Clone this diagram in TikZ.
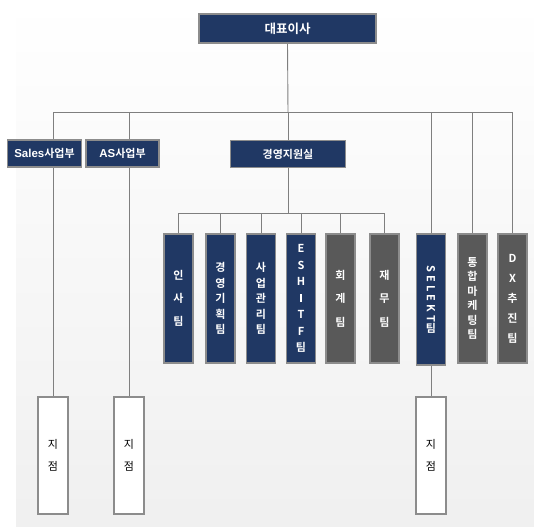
\documentclass[tikz,border=0pt]{standalone}
\usepackage{fontspec}
\newfontfamily\kr{Noto Sans CJK KR}[BoldFont={Noto Sans CJK KR Bold}]
\newfontfamily\lat{Liberation Sans}
\usetikzlibrary{positioning}
\definecolor{OrgNavy}{HTML}{203864}
\definecolor{OrgGray}{HTML}{595959}
\definecolor{OrgEdge}{HTML}{8C8C8C}
\definecolor{OrgLine}{HTML}{7F7F7F}
\pgfdeclarelayer{paper}
\pgfdeclarelayer{wires}
\pgfsetlayers{paper,wires,main}

\begin{document}
\begin{tikzpicture}[x=1pt, y=-1pt,
    box/.style={draw=OrgEdge, line width=1.4pt, inner sep=0pt, align=center},
    head/.style={box, fill=OrgNavy, text=white, font=\kr\bfseries\fontsize{12.5}{14}\selectfont},
    unit/.style={box, fill=OrgNavy, text=white, minimum height=27pt, font=\kr\bfseries\fontsize{11}{13}\selectfont},
    team/.style={box, text=white, minimum width=29pt, minimum height=129pt, font=\kr\bfseries\fontsize{11}{#1}\selectfont},
    branch/.style={box, fill=white, minimum width=30pt, minimum height=117pt, font=\kr\fontsize{11}{22}\selectfont},
    wire/.style={draw=OrgLine, line width=0.9pt}]
  \useasboundingbox (0,0) rectangle (534,526);
  \begin{pgfonlayer}{paper}
    \fill[white] (0,0) rectangle (534,526);
    \shade[top color=white, bottom color=black!6] (16,0) rectangle (534,526);
  \end{pgfonlayer}

  % top and first level
  \node[head, minimum width=177pt, minimum height=29pt] (ceo) at (287.5,28.5) {대표이사};
  \node[unit, minimum width=74pt] (sales) at (44.5,153.5) {{\lat\bfseries\fontsize{11.5}{13}\selectfont Sales}사업부};
  \node[unit, minimum width=73pt] (asdiv) at (122.5,153.5) {{\lat\bfseries\fontsize{11.5}{13}\selectfont AS}사업부};
  \node[unit, minimum width=115pt] (mgmt) at (288,154) {경영지원실};

  % teams
  \node[team=23, fill=OrgNavy] (insa) at (178.5,298.5) {인\\사\\팀};
  \node[team=15.5, fill=OrgNavy] (plan) at (220.5,298.5) {경\\영\\기\\획\\팀};
  \node[team=15.5, fill=OrgNavy] (biz) at (261,298.5) {사\\업\\관\\리\\팀};
  \node[team=16.5, fill=OrgNavy] (esh) at (301,298.5) {E\\S\\H\\\rule{1.6pt}{8pt}\\T\\F\\팀};
  \node[team=23.5, fill=OrgGray] (acct) at (340.5,298.5) {회\\계\\팀};
  \node[team=23.5, fill=OrgGray] (fin) at (384.5,298.5) {재\\무\\팀};
  \node[team=16, fill=OrgNavy, minimum height=131pt] (selekt) at (431,299.5)
    {\rotatebox{-90}{S\kern3pt E\kern3pt L\kern3pt E\kern3pt K\kern3pt T}\\팀};
  \node[team=14.5, fill=OrgGray] (mkt) at (472.5,298.5) {통\\합\\마\\케\\팅\\팀};
  \node[team=20, fill=OrgGray] (dx) at (512.5,298.5) {D\\X\\추\\진\\팀};

  % branches
  \node[branch] (br1) at (53,455.5) {지\\점};
  \node[branch] (br2) at (129,455.5) {지\\점};
  \node[branch] (br3) at (431,455.5) {지\\점};

  \begin{pgfonlayer}{wires}
    \coordinate (bus) at (288,112.5);
    \coordinate (subbus) at (288,213);
    \draw[wire] (ceo.south) -- (bus);
    \draw[wire] (bus) -| (br1.north);
    \draw[wire] (bus) -| (br2.north);
    \draw[wire] (bus) -| (mgmt.north);
    \draw[wire] (bus) -| (selekt.north);
    \draw[wire] (bus) -| (mkt.north);
    \draw[wire] (bus) -| (dx.north);
    \draw[wire] (selekt.south) -- (br3.north);
    \draw[wire] (mgmt.south) -- (subbus);
    \foreach \t in {insa,plan,biz,esh,acct,fin}
      \draw[wire] (subbus) -| (\t.north);
  \end{pgfonlayer}
\end{tikzpicture}
\end{document}
